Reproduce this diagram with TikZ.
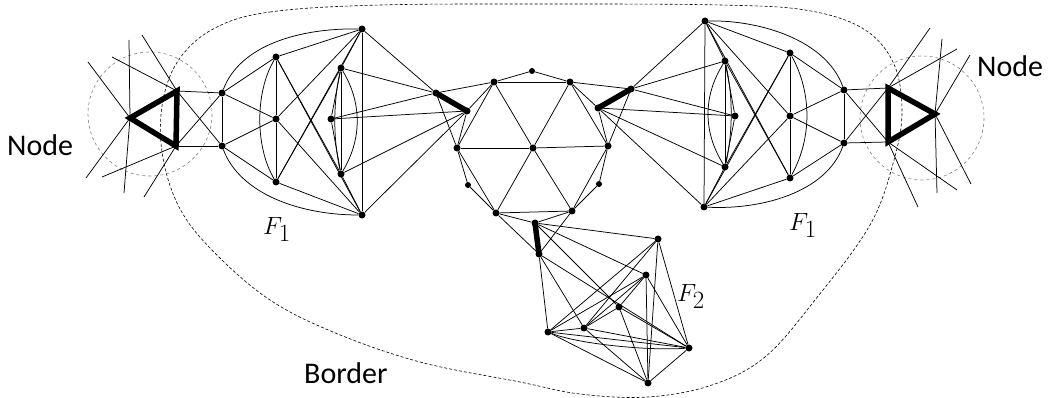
\documentclass[tikz,border=0pt]{standalone}
\usepackage{fontspec}
\newfontfamily\labelfont{Carlito}
\tikzset{
  vtx/.style={circle,fill=black,inner sep=0pt,minimum size=7pt},
  svtx/.style={vtx,minimum size=6pt},
  edge/.style={line width=0.75pt},
  heavy/.style={line width=5.5pt},
  border/.style={line width=0.6pt,dash pattern=on 3pt off 2pt},
  halo/.style={dashed,draw=gray,line width=0.6pt},
  lbl/.style={font=\labelfont\fontsize{30}{32}\selectfont,inner sep=0pt},
  flbl/.style={font=\fontsize{33}{35}\selectfont,inner sep=0pt},
}
\begin{document}
\begin{tikzpicture}[x=1pt,y=-1pt]
\useasboundingbox (0,0) rectangle (1052,398);
% border and halos
\draw[border] plot[smooth cycle,tension=0.6] coordinates {(215,28) (270,12) (380,5) (560,4) (720,5) (805,10) (862,28) (893,62) (902,110) (894,160) (870,225) (815,300) (765,357) (712,385) (648,397) (580,394) (520,382) (420,362) (333,332) (267,298) (210,248) (178,205) (162,152) (163,100) (180,58)};
\draw[halo] (150,114) circle (62);
\draw[halo] (922,118) circle (62);
% left node
\coordinate (nl) at (130,118);
\coordinate (nlt) at (177,91);
\coordinate (nlb) at (176,146);
\coordinate (sl1) at (88,62);
\coordinate (sl2a) at (129,40);
\coordinate (sl2b) at (124,193);
\coordinate (sl3) at (86,178);
\coordinate (sl4) at (112,57);
\coordinate (sl5) at (142,35);
\coordinate (sl6) at (102,177);
\coordinate (sl7) at (144,197);
% right node
\coordinate (nr) at (935,114);
\coordinate (nrt) at (888,88);
\coordinate (nrb) at (888,142);
\coordinate (sr1) at (970,55);
\coordinate (sr2a) at (942,39);
\coordinate (sr2b) at (937,193);
\coordinate (sr3) at (971,184);
\coordinate (sr4) at (957,49);
\coordinate (sr5) at (930,28);
\coordinate (sr6) at (957,190);
\coordinate (sr7) at (918,207);
% left F1
\node[vtx] (ls1) at (222,93) {};
\node[vtx] (ls2) at (222,146) {};
\node[vtx] (la1) at (276,57) {};
\node[vtx] (la2) at (276,119) {};
\node[vtx] (la3) at (276,182) {};
\node[vtx] (lb1) at (341,68) {};
\node[vtx] (lb2) at (331,119) {};
\node[vtx] (lb3) at (341,174) {};
\node[vtx] (lt) at (362,29) {};
\node[vtx] (lu) at (362,215) {};
\node[vtx] (lp1) at (436,93) {};
\node[vtx] (lp2) at (467,111) {};
% hexagon
\node[svtx] (hx0) at (532,71) {};
\node[vtx] (hul) at (494,82) {};
\node[vtx] (hur) at (570,82) {};
\node[vtx] (hl) at (457,148) {};
\node[vtx] (hc) at (533,148) {};
\node[vtx] (hr) at (608,146) {};
\node[svtx] (hsl) at (468,185) {};
\node[svtx] (hsr) at (599,184) {};
\node[vtx] (hbl) at (496,213) {};
\node[vtx] (hbr) at (572,211) {};
% right F1
\node[vtx] (rq1) at (598,108) {};
\node[vtx] (rq2) at (631,89) {};
\node[vtx] (rt) at (705,21) {};
\node[vtx] (ru) at (704,207) {};
\node[vtx] (rb1) at (725,61) {};
\node[vtx] (rb2) at (735,116) {};
\node[vtx] (rb3) at (725,167) {};
\node[vtx] (ra1) at (790,53) {};
\node[vtx] (ra2) at (790,116) {};
\node[vtx] (ra3) at (790,178) {};
\node[vtx] (rs1) at (844,90) {};
\node[vtx] (rs2) at (844,143) {};
% F2
\node[vtx] (fp1) at (535,223) {};
\node[vtx] (fp2) at (539,254) {};
\node[vtx] (fa) at (658,239) {};
\node[vtx] (fb) at (646,275) {};
\node[vtx] (fc) at (619,307) {};
\node[vtx] (fd) at (584,328) {};
\node[vtx] (fe) at (548,332) {};
\node[vtx] (ff) at (689,348) {};
\node[vtx] (fg) at (648,383) {};
% node stubs
\foreach \a/\b in {nl/sl1,nl/sl3,sl2a/nl,nl/sl2b,nlt/sl4,nlt/sl5,nlb/sl6,nlb/sl7,
  nr/sr1,nr/sr3,sr2a/nr,nr/sr2b,nrt/sr4,nrt/sr5,nrb/sr6,nrb/sr7}
  \draw[edge] (\a) -- (\b);
% left F1 edges
\foreach \a/\b in {nlt/ls1,nlb/ls2,nlt/ls2,nlb/ls1,ls1/ls2,ls1/la1,ls1/la2,ls2/la2,ls2/la3,
  la1/la2,la2/la3,la1/lt,la3/lu,la1/lb3,la1/lu,la2/lt,la2/lu,la3/lb1,la3/lt,
  lb1/lb2,lb2/lb3,lb1/lb3,lb1/lt,lb3/lu,lt/lu,lt/lp1,lb1/lp1,lb2/lp1,lb2/lp2,lb3/lp2,lu/lp2,
  lp1/hul,lp1/hl,lp2/hul,lp2/hl}
  \draw[edge] (\a) -- (\b);
\draw[edge] (ls1) .. controls (240,45) and (300,28) .. (lt);
\draw[edge] (ls2) .. controls (240,194) and (300,215) .. (lu);
\draw[edge] (la1) .. controls +(-21,35) and +(-21,-35) .. (la3);
\draw[edge] (lb1) .. controls +(21,35) and +(21,-35) .. (lb3);
\draw[edge] (lb1) .. controls +(-8,35) and +(-8,-35) .. (lb3);
% hexagon edges
\foreach \a/\b in {hx0/hul,hx0/hur,hul/hur,hul/hl,hul/hc,hur/hc,hur/hr,hl/hc,hc/hr,hl/hbl,
  hc/hbl,hc/hbr,hr/hbr,hbl/hbr,hl/hsl,hsl/hbl,hr/hsr,hsr/hbr}
  \draw[edge] (\a) -- (\b);
% right F1 edges
\foreach \a/\b in {nrt/rs1,nrb/rs2,nrt/rs2,nrb/rs1,rs1/rs2,rs1/ra1,rs1/ra2,rs2/ra2,rs2/ra3,
  ra1/ra2,ra2/ra3,ra1/rt,ra3/ru,ra1/rb3,ra1/ru,ra2/rt,ra2/ru,ra3/rb1,ra3/rt,
  rb1/rb2,rb2/rb3,rb1/rb3,rb1/rt,rb3/ru,rt/ru,rt/rq2,rb1/rq2,rb2/rq2,rb2/rq1,rb3/rq1,ru/rq1,
  rq1/hur,rq1/hr,rq2/hur,rq2/hr}
  \draw[edge] (\a) -- (\b);
\draw[edge] (rs1) .. controls (826,40) and (760,20) .. (rt);
\draw[edge] (rs2) .. controls (826,193) and (760,210) .. (ru);
\draw[edge] (ra1) .. controls +(22,40) and +(22,-40) .. (ra3);
\draw[edge] (rb1) .. controls +(-22,35) and +(-22,-35) .. (rb3);
\draw[edge] (rb1) .. controls +(8,35) and +(8,-35) .. (rb3);
% F2 edges
\foreach \a/\b in {fp1/hbl,fp1/hbr,fp2/hbl,fp2/hbr,fp1/fa,fp1/fb,fp1/fc,fp2/fe,fp2/fd,fp2/ff,
  fa/fe,fa/fd,fa/fg,fa/ff,fb/fd,fb/fc,fb/fg,fb/ff,fb/fe,fc/fd,fc/fg,fc/ff,
  fd/fe,fd/ff,fd/fg,fe/ff,fe/fg,ff/fg}
  \draw[edge] (\a) -- (\b);
\draw[edge] (fe) .. controls +(30,12) and +(-40,3) .. (ff);
% heavy edges
\draw[heavy] (nl) -- (nlt) -- (nlb) -- cycle;
\draw[heavy] (nr) -- (nrt) -- (nrb) -- cycle;
\draw[heavy] (lp1.center) -- (lp2.center);
\draw[heavy] (rq1.center) -- (rq2.center);
\draw[heavy] (fp1.center) -- (fp2.center);
% labels
\node[lbl,anchor=base west] (nodel) at (7,156) {Node};
\node[lbl,anchor=base west] (noder) at (977,77) {Node};
\node[lbl,anchor=base west] (bordl) at (304,383) {Border};
\node[flbl,anchor=base west] (f1l) at (263,234) {$F_1$};
\node[flbl,anchor=base west] (f1r) at (789,230) {$F_1$};
\node[flbl,anchor=base west] (f2) at (677,301) {$F_2$};
\end{tikzpicture}
\end{document}
